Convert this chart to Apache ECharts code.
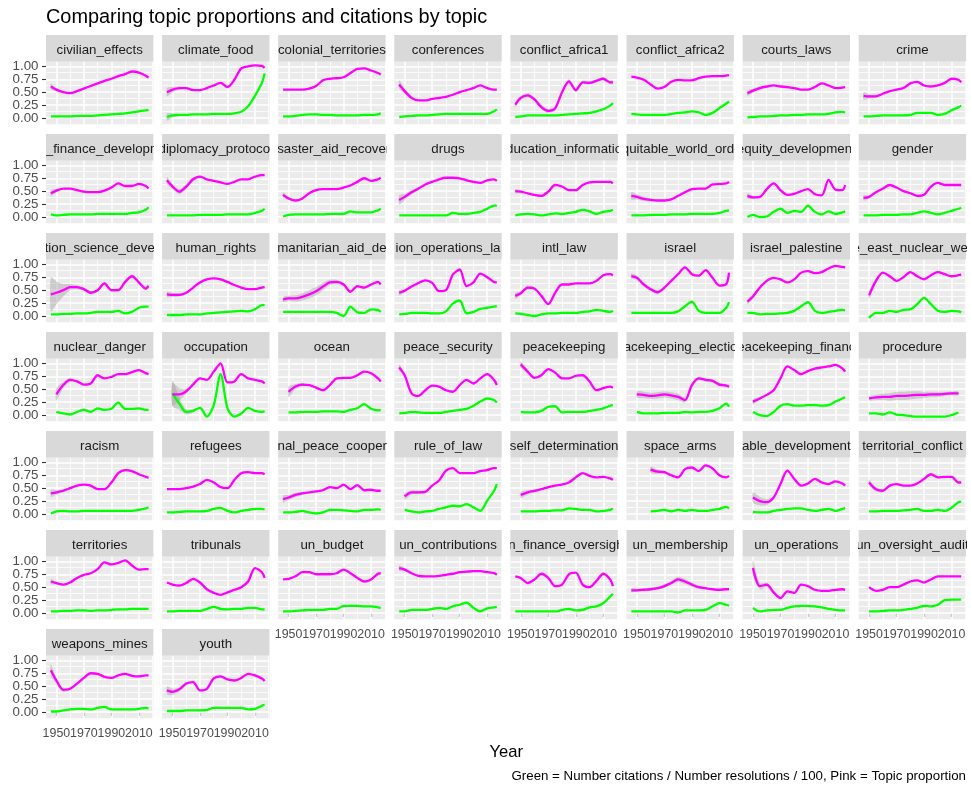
<!DOCTYPE html>
<html><head><meta charset="utf-8">
<script src="https://cdn.jsdelivr.net/npm/echarts@6/dist/echarts.min.js"></script>
<style>html,body{margin:0;padding:0;background:#fff}#c{width:971px;height:787px}</style>
</head><body><div id="c"></div>
<script>
// ---------------- DATA ----------------
const years = [1946,1950,1955,1960,1965,1970,1975,1980,1985,1990,1995,2000,2005,2010,2015,2017];
const xTicks = [1950,1970,1990,2010];
const yTicks = [0,0.25,0.5,0.75,1];
const majorX = [1950,1970,1990,2010], minorX = [1960,1980,2000,2020];
const majorY = [0,0.25,0.5,0.75,1], minorY = [-0.125,0.125,0.375,0.625,0.875];

const labels = ["civilian_effects","climate_food","colonial_territories","conferences","conflict_africa1","conflict_africa2","courts_laws","crime",
"debt_finance_development","diplomacy_protocol","disaster_aid_recovery","drugs","education_information","equitable_world_order","equity_development","gender",
"tion_science_deve","human_rights","manitarian_aid_de","ion_operations_la","intl_law","israel","israel_palestine","middle_east_nuclear_weapons",
"nuclear_danger","occupation","ocean","peace_security","peacekeeping","peacekeeping_elections","peacekeeping_finance","procedure",
"racism","refugees","regional_peace_cooperation","rule_of_law","self_determination","space_arms","able_development","territorial_conflict",
"territories","tribunals","un_budget","un_contributions","un_finance_oversight","un_membership","un_operations","un_oversight_audit",
"weapons_mines","youth"];

// Pink = topic proportion, Green = citations / resolutions / 100
const P01=[0.61,0.55,0.50,0.48,0.52,0.57,0.62,0.67,0.72,0.76,0.81,0.85,0.90,0.88,0.82,0.78], G01=[0.03,0.03,0.03,0.03,0.04,0.04,0.04,0.05,0.06,0.07,0.08,0.09,0.11,0.13,0.15,0.16];
const P02=[0.50,0.55,0.58,0.58,0.54,0.54,0.58,0.63,0.68,0.60,0.74,0.96,1.00,1.02,1.01,0.97], G02=[0.02,0.05,0.06,0.06,0.07,0.07,0.07,0.08,0.08,0.08,0.09,0.12,0.23,0.43,0.68,0.86];
const P03=[0.55,0.55,0.55,0.55,0.57,0.62,0.73,0.76,0.77,0.79,0.87,0.95,0.96,0.92,0.87,0.84], G03=[0.03,0.03,0.04,0.06,0.07,0.07,0.06,0.06,0.05,0.05,0.05,0.05,0.06,0.06,0.07,0.09];
const P04=[0.65,0.52,0.39,0.34,0.34,0.37,0.39,0.41,0.45,0.50,0.54,0.58,0.63,0.58,0.55,0.55], G04=[0.02,0.03,0.04,0.05,0.05,0.06,0.07,0.08,0.08,0.08,0.08,0.08,0.08,0.08,0.13,0.17];
const P05=[0.26,0.39,0.44,0.36,0.21,0.14,0.19,0.50,0.71,0.54,0.69,0.68,0.72,0.76,0.69,0.69], G05=[0.02,0.03,0.05,0.05,0.05,0.05,0.05,0.06,0.07,0.08,0.09,0.10,0.13,0.17,0.24,0.29];
const P06=[0.80,0.78,0.74,0.65,0.57,0.60,0.70,0.74,0.73,0.73,0.77,0.80,0.81,0.81,0.82,0.83], G06=[0.08,0.07,0.06,0.06,0.06,0.06,0.08,0.10,0.11,0.13,0.11,0.06,0.10,0.19,0.28,0.32];
const P07=[0.48,0.53,0.58,0.61,0.63,0.61,0.60,0.58,0.55,0.55,0.60,0.67,0.63,0.58,0.59,0.60], G07=[0.01,0.02,0.03,0.03,0.04,0.05,0.05,0.06,0.06,0.07,0.07,0.07,0.08,0.11,0.12,0.11];
const P08=[0.43,0.42,0.42,0.47,0.52,0.55,0.58,0.67,0.70,0.63,0.61,0.63,0.68,0.76,0.74,0.69], G08=[0.03,0.03,0.04,0.05,0.05,0.05,0.05,0.06,0.10,0.10,0.10,0.06,0.08,0.15,0.21,0.24];
const P09=[0.46,0.51,0.55,0.55,0.52,0.49,0.48,0.48,0.51,0.57,0.65,0.60,0.60,0.64,0.60,0.55], G09=[0.05,0.03,0.04,0.05,0.05,0.05,0.05,0.06,0.06,0.06,0.06,0.06,0.08,0.09,0.14,0.19];
const P10=[0.71,0.59,0.49,0.59,0.73,0.78,0.73,0.70,0.67,0.64,0.68,0.73,0.73,0.78,0.81,0.81], G10=[0.03,0.03,0.03,0.03,0.03,0.04,0.04,0.04,0.04,0.05,0.05,0.05,0.05,0.08,0.12,0.16];
const P11=[0.43,0.36,0.32,0.36,0.46,0.52,0.54,0.54,0.54,0.57,0.61,0.68,0.75,0.70,0.73,0.76], G11=[0.01,0.04,0.05,0.05,0.05,0.05,0.05,0.06,0.06,0.06,0.11,0.09,0.09,0.09,0.13,0.16];
const P12=[0.33,0.39,0.48,0.55,0.63,0.68,0.73,0.76,0.76,0.75,0.71,0.68,0.66,0.71,0.73,0.70], G12=[0.03,0.03,0.03,0.03,0.03,0.03,0.03,0.03,0.08,0.06,0.06,0.08,0.10,0.16,0.22,0.22];
const P13=[0.50,0.49,0.46,0.43,0.41,0.49,0.62,0.59,0.52,0.52,0.62,0.67,0.68,0.68,0.68,0.65], G13=[0.03,0.05,0.06,0.05,0.03,0.05,0.07,0.06,0.08,0.10,0.14,0.11,0.06,0.10,0.12,0.14];
const P14=[0.41,0.39,0.35,0.33,0.32,0.32,0.34,0.41,0.48,0.54,0.55,0.55,0.63,0.64,0.65,0.68], G14=[0.03,0.03,0.03,0.04,0.04,0.04,0.05,0.05,0.05,0.06,0.06,0.06,0.06,0.08,0.12,0.13];
const P15=[0.41,0.38,0.39,0.54,0.65,0.52,0.43,0.45,0.50,0.54,0.44,0.42,0.72,0.53,0.52,0.62], G15=[0.00,0.04,0.00,0.01,0.10,0.16,0.08,0.12,0.10,0.22,0.10,0.05,0.11,0.06,0.09,0.11];
const P16=[0.37,0.39,0.48,0.55,0.62,0.57,0.50,0.46,0.41,0.43,0.59,0.66,0.62,0.62,0.62,0.62], G16=[0.03,0.03,0.03,0.04,0.04,0.04,0.05,0.05,0.08,0.11,0.08,0.05,0.08,0.12,0.16,0.18];
const P17=[0.42,0.45,0.50,0.56,0.56,0.52,0.45,0.50,0.63,0.50,0.50,0.66,0.77,0.65,0.53,0.58], G17=[0.03,0.03,0.04,0.04,0.05,0.05,0.06,0.08,0.08,0.08,0.10,0.05,0.08,0.16,0.18,0.18];
const P18=[0.42,0.41,0.41,0.45,0.55,0.65,0.71,0.73,0.71,0.66,0.60,0.55,0.52,0.52,0.55,0.56], G18=[0.02,0.02,0.02,0.03,0.03,0.03,0.05,0.06,0.07,0.08,0.09,0.10,0.09,0.13,0.21,0.21];
const P19=[0.32,0.34,0.34,0.37,0.42,0.48,0.57,0.65,0.66,0.61,0.47,0.58,0.55,0.61,0.66,0.61], G19=[0.08,0.08,0.08,0.08,0.08,0.08,0.08,0.08,0.06,0.00,0.18,0.07,0.06,0.13,0.12,0.08];
const P20=[0.45,0.49,0.57,0.64,0.69,0.64,0.48,0.50,0.80,0.90,0.58,0.65,0.82,0.75,0.66,0.65], G20=[0.03,0.04,0.06,0.06,0.06,0.05,0.05,0.09,0.24,0.30,0.05,0.08,0.14,0.16,0.18,0.19];
const P21=[0.39,0.44,0.55,0.53,0.39,0.23,0.45,0.61,0.61,0.63,0.63,0.63,0.68,0.79,0.81,0.79], G21=[0.05,0.04,0.02,0.00,0.03,0.05,0.05,0.06,0.06,0.06,0.08,0.09,0.12,0.10,0.08,0.10];
const P22=[0.77,0.74,0.61,0.52,0.46,0.55,0.68,0.81,0.94,0.81,0.78,0.89,0.74,0.59,0.62,0.84], G22=[0.06,0.06,0.06,0.06,0.06,0.06,0.06,0.09,0.19,0.28,0.10,0.06,0.06,0.06,0.16,0.27];
const P23=[0.28,0.38,0.55,0.68,0.74,0.71,0.65,0.71,0.84,0.87,0.83,0.85,0.92,0.97,0.95,0.94], G23=[0.06,0.06,0.03,0.04,0.04,0.05,0.06,0.10,0.19,0.27,0.10,0.06,0.08,0.10,0.12,0.11];
const P24=[null,0.40,0.68,0.84,0.77,0.68,0.75,0.85,0.77,0.71,0.79,0.85,0.81,0.77,0.79,0.80], G24=[null,-0.04,0.06,0.06,0.10,0.08,0.12,0.13,0.23,0.35,0.23,0.10,0.08,0.10,0.09,0.07];
const P25=[null,0.40,0.58,0.68,0.65,0.59,0.61,0.77,0.71,0.74,0.79,0.79,0.83,0.87,0.81,0.79], G25=[null,0.06,0.03,0.01,0.06,0.10,0.06,0.13,0.10,0.12,0.24,0.12,0.12,0.13,0.10,0.10];
const P26=[null,0.40,0.40,0.46,0.59,0.71,0.68,0.84,1.00,0.63,0.65,0.79,0.71,0.68,0.65,0.61], G26=[null,0.42,0.22,0.06,0.08,0.14,-0.03,0.19,0.79,0.13,-0.03,0.03,0.14,0.08,0.06,0.08];
const P27=[null,0.45,0.55,0.59,0.58,0.53,0.48,0.58,0.71,0.72,0.72,0.77,0.84,0.81,0.71,0.65], G27=[null,0.05,0.05,0.06,0.06,0.06,0.07,0.07,0.07,0.06,0.10,0.13,0.21,0.12,0.09,0.10];
const P28=[0.92,0.77,0.42,0.37,0.48,0.57,0.55,0.48,0.45,0.58,0.68,0.61,0.71,0.79,0.68,0.58], G28=[0.03,0.04,0.06,0.05,0.04,0.04,0.04,0.06,0.08,0.10,0.12,0.18,0.26,0.32,0.29,0.24];
const P29=[null,0.98,0.84,0.72,0.77,0.89,0.82,0.71,0.71,0.76,0.77,0.65,0.48,0.52,0.55,0.53], G29=[null,0.06,0.05,0.05,0.08,0.16,0.17,0.05,0.06,0.06,0.06,0.08,0.10,0.13,0.18,0.19];
const P30=[null,0.40,0.39,0.37,0.38,0.40,0.38,0.35,0.29,0.58,0.71,0.68,0.66,0.59,0.57,0.55], G30=[null,0.06,0.03,0.03,0.03,0.04,0.04,0.04,0.06,0.05,0.06,0.06,0.08,0.13,0.22,0.16];
const P31=[null,0.26,0.32,0.39,0.48,0.71,0.94,0.87,0.79,0.85,0.90,0.92,0.94,0.97,0.90,0.84], G31=[null,0.06,0.00,-0.02,0.06,0.18,0.21,0.18,0.18,0.19,0.19,0.18,0.19,0.26,0.32,0.34];
const P32=[null,0.32,0.34,0.35,0.35,0.37,0.37,0.38,0.39,0.39,0.40,0.40,0.41,0.42,0.42,null], G32=[null,0.03,0.03,0.01,0.05,0.01,0.00,-0.02,-0.03,-0.03,-0.03,-0.03,-0.03,0.00,0.05,null];
const P33=[0.40,0.42,0.45,0.50,0.55,0.57,0.55,0.48,0.48,0.61,0.79,0.85,0.83,0.77,0.72,0.70], G33=[0.01,0.05,0.06,0.05,0.05,0.06,0.06,0.06,0.06,0.06,0.06,0.06,0.06,0.08,0.11,0.13];
const P34=[0.48,0.48,0.48,0.50,0.53,0.58,0.66,0.61,0.52,0.50,0.66,0.79,0.81,0.79,0.79,0.77], G34=[0.03,0.03,0.04,0.05,0.05,0.05,0.06,0.10,0.12,0.06,0.03,0.06,0.08,0.10,0.10,0.09];
const P35=[0.29,0.32,0.37,0.40,0.42,0.44,0.46,0.52,0.50,0.57,0.48,0.56,0.46,0.47,0.45,0.45], G35=[0.03,0.03,0.04,0.06,0.03,0.01,0.03,0.08,0.08,0.07,0.06,0.05,0.08,0.08,0.09,0.08];
const P36=[null,0.34,0.42,0.42,0.43,0.55,0.65,0.84,0.89,0.79,0.79,0.79,0.83,0.85,0.89,0.89], G36=[null,0.08,0.05,0.03,0.05,0.06,0.10,0.13,0.16,0.15,0.19,0.13,0.06,0.26,0.45,0.58];
const P37=[null,0.37,0.42,0.45,0.48,0.52,0.55,0.57,0.61,0.71,0.79,0.74,0.71,0.72,0.69,0.66], G37=[null,0.05,0.05,0.05,0.06,0.06,0.07,0.07,0.11,0.10,0.08,0.08,0.05,0.06,0.08,0.11];
const P38=[null,null,null,0.86,0.82,0.81,0.75,0.71,0.87,0.90,0.83,0.94,0.88,0.75,0.71,0.74], G38=[null,null,null,0.05,0.06,0.08,0.05,0.08,0.06,0.08,0.06,0.06,0.08,0.10,0.14,0.11];
const P39=[null,0.32,0.25,0.23,0.32,0.58,0.84,0.68,0.55,0.59,0.68,0.61,0.58,0.63,0.59,0.55], G39=[null,0.04,0.03,0.03,0.06,0.08,0.10,0.11,0.11,0.08,0.06,0.08,0.10,0.06,0.10,0.12];
const P40=[null,0.61,0.48,0.45,0.55,0.58,0.55,0.55,0.59,0.68,0.77,0.71,0.72,0.72,0.61,0.61], G40=[null,0.05,0.05,0.06,0.06,0.06,0.07,0.08,0.10,0.06,0.06,0.08,0.06,0.12,0.23,0.24];
const P41=[0.61,0.58,0.55,0.59,0.68,0.74,0.77,0.85,0.98,0.94,0.97,1.02,0.92,0.84,0.85,0.85], G41=[0.03,0.03,0.04,0.04,0.05,0.05,0.04,0.05,0.05,0.06,0.07,0.07,0.08,0.08,0.08,0.08];
const P42=[0.59,0.55,0.53,0.58,0.66,0.59,0.46,0.39,0.35,0.40,0.45,0.50,0.61,0.87,0.79,0.68], G42=[0.03,0.03,0.04,0.04,0.04,0.04,0.08,0.12,0.08,0.07,0.08,0.08,0.10,0.10,0.07,0.07];
const P43=[0.65,0.66,0.71,0.79,0.79,0.75,0.75,0.75,0.77,0.84,0.77,0.68,0.61,0.65,0.76,0.77], G43=[0.03,0.03,0.04,0.05,0.06,0.06,0.06,0.08,0.08,0.14,0.14,0.14,0.13,0.13,0.11,0.10];
const P44=[0.87,0.84,0.77,0.72,0.71,0.71,0.72,0.74,0.76,0.79,0.80,0.81,0.81,0.79,0.77,0.74], G44=[0.03,0.03,0.06,0.06,0.06,0.08,0.10,0.08,0.13,0.16,0.20,0.10,0.03,0.09,0.11,0.12];
const P45=[0.71,0.68,0.58,0.65,0.76,0.68,0.52,0.55,0.75,0.78,0.55,0.50,0.62,0.76,0.65,0.52], G45=[0.03,0.03,0.03,0.03,0.03,0.03,0.03,0.06,0.08,0.05,0.06,0.11,0.13,0.19,0.32,0.37];
const P46=[0.44,0.44,0.45,0.46,0.48,0.52,0.58,0.65,0.61,0.55,0.50,0.48,0.46,0.45,0.46,0.46], G46=[0.03,0.03,0.03,0.03,0.03,0.03,0.03,0.01,0.05,0.05,0.05,0.06,0.13,0.19,0.16,0.14];
const P47=[null,0.87,0.52,0.55,0.40,0.29,0.42,0.39,0.55,0.52,0.45,0.43,0.43,0.45,0.46,0.45], G47=[null,0.10,0.03,0.05,0.06,0.06,0.10,0.13,0.14,0.14,0.13,0.11,0.08,0.06,0.05,0.05];
const P48=[null,0.50,0.43,0.45,0.50,0.50,0.55,0.61,0.63,0.59,0.65,0.71,0.71,0.71,0.71,0.71], G48=[null,0.03,0.03,0.04,0.05,0.05,0.06,0.08,0.10,0.14,0.13,0.16,0.25,0.26,0.26,0.26];
const P49=[0.81,0.61,0.43,0.45,0.55,0.66,0.75,0.74,0.68,0.66,0.71,0.74,0.70,0.69,0.71,0.71], G49=[0.01,0.01,0.03,0.05,0.06,0.06,0.05,0.08,0.10,0.05,0.05,0.05,0.05,0.06,0.08,0.07];
const P50=[0.42,0.39,0.44,0.55,0.58,0.42,0.45,0.65,0.69,0.63,0.61,0.66,0.74,0.71,0.65,0.60], G50=[0.02,0.02,0.02,0.03,0.03,0.03,0.04,0.08,0.08,0.08,0.08,0.08,0.05,0.06,0.12,0.14];

// half-width of the grey confidence ribbons (read where visible; entries past the end = no visible band)
const bandPink = {
  0:[0.06,0.03], 1:[0.08,0.05,0.03], 3:[0.08,0.05,0.03], 4:[0.05,0.04,0.04,0.04,0.04,0.04,0.04,0.04,0.04,0.04,0.03,0.03,0.03,0.03,0.03,0.04],
  6:[0.05,0.04,0.03], 7:[0.07,0.04,0.03], 8:[0.06,0.03], 9:[0.07,0.05,0.05,0.05,0.04,0.03], 10:[0.05,0.03], 11:[0.09,0.06,0.04,0.03],
  12:[0.04,0.03], 13:[0.07,0.05,0.04,0.03], 14:[0.05,0.03], 15:[0.05,0.03],
  16:[0.33,0.22,0.12,0.06,0.04,0.03,0.03,0.03,0.03,0.03,0.03,0.03,0.03,0.03,0.03,0.04], 17:[0.05,0.04,0.03],
  18:[0.05,0.05,0.06,0.07,0.08,0.08,0.07,0.05,0.04,0.03], 19:[0.05,0.03], 20:[0.06,0.04,0.04,0.03], 21:[0.05,0.04,0.03,0.03,0.04],
  22:[0.05,0.04,0.03,0.03], 23:[0,0.07,0.04], 24:[0,0.12,0.06,0.04], 25:[0,0.22,0.12,0.05,0.03], 26:[0,0.10,0.05,0.03],
  27:[0.06,0.04,0.03], 28:[0,0.06,0.03], 29:[0,0.06,0.06,0.06,0.06,0.06,0.06,0.06,0.05,0.04,0.03,0.03,0.03,0.03,0.03,0.04],
  30:[0,0.05,0.03], 31:[0,0.04,0.05,0.06,0.07,0.08,0.08,0.08,0.07,0.06,0.05,0.05,0.04,0.04,0.04], 32:[0.07,0.04,0.03],
  34:[0.07,0.05,0.04,0.03], 35:[0,0.06,0.04,0.03], 36:[0,0.06,0.04,0.03], 37:[0,0,0,0.06,0.04,0.03], 38:[0,0.10,0.08,0.06,0.04,0.03],
  39:[0,0.06,0.04,0.03], 40:[0.05,0.03], 43:[0.05,0.03], 45:[0.04,0.03,0.03,0.03,0.03,0.03,0.04,0.05,0.05,0.04,0.03],
  46:[0,0.15,0.06,0.04,0.03], 48:[0.12,0.06,0.04,0.03], 49:[0.08,0.06,0.04,0.03]
};
const bandGreen = { 1:[0.07,0.04,0.02], 25:[0,0.25,0.12,0.05,0.03] };

const proportion = [P01,P02,P03,P04,P05,P06,P07,P08,P09,P10,P11,P12,P13,P14,P15,P16,P17,P18,P19,P20,P21,P22,P23,P24,P25,
  P26,P27,P28,P29,P30,P31,P32,P33,P34,P35,P36,P37,P38,P39,P40,P41,P42,P43,P44,P45,P46,P47,P48,P49,P50];
const citations = [G01,G02,G03,G04,G05,G06,G07,G08,G09,G10,G11,G12,G13,G14,G15,G16,G17,G18,G19,G20,G21,G22,G23,G24,G25,
  G26,G27,G28,G29,G30,G31,G32,G33,G34,G35,G36,G37,G38,G39,G40,G41,G42,G43,G44,G45,G46,G47,G48,G49,G50];

// ---------------- LAYOUT / STYLE ----------------
const FONT = '"Liberation Sans", Arial, sans-serif';
const X0 = 46, PITCH_X = 116.1, W = 107.4, Y0 = 35, PITCH_Y = 99, SH = 26.7, PH = 63.3;
const PINK = '#FF00FF', GREEN = '#00FF00';

const grids = [], xAxes = [], yAxes = [], series = [];
function pairs(vals){ return years.map((y,k)=>[y, vals[k] == null ? null : vals[k]]); }

// grey ribbon as a polygon built from the value axis coordinates
function addBand(idx, vals, band){
  if(!band) return;
  series.push({type:'custom', xAxisIndex:idx, yAxisIndex:idx, clip:true, silent:true, animation:false, z:2,
    data:[[years[0], 0]],
    renderItem:(params, api)=>{
      const up = [], lo = [];
      for(let k=0;k<years.length && k<=band.length;k++){
        if(vals[k]==null) continue;
        const b = band[k] || 0;
        up.push(api.coord([years[k], vals[k]+b]));
        lo.push(api.coord([years[k], vals[k]-b]));
      }
      if(up.length < 2) return null;
      return {type:'polygon', shape:{points: up.concat(lo.reverse()), smooth:0.25},
        style:{fill:'rgba(153,153,153,0.4)'}};
    }});
}

for(let i=0;i<labels.length;i++){
  const r = Math.floor(i/8), c = i%8;
  const left = X0 + PITCH_X*c, top = Y0 + PITCH_Y*r;
  const bottomRow = (c < 2) ? 6 : 5;
  const isBottom = r === bottomRow, isLeft = c === 0;

  // strip
  const si = grids.length;
  grids.push({left:left, top:top, width:W, height:SH, show:true, backgroundColor:'#D9D9D9', borderWidth:0, containLabel:false, outerBoundsMode:'none'});
  xAxes.push({gridIndex:si, type:'value', min:0, max:1, show:false});
  yAxes.push({gridIndex:si, type:'value', min:0, max:1, show:false});
  const lab = labels[i];
  series.push({type:'custom', xAxisIndex:si, yAxisIndex:si, clip:true, silent:true, animation:false, data:[[0.5,1]],
    renderItem:(params, api)=>{
      const p = api.coord([0.5,1]);
      return {type:'text', x:p[0], y:p[1]+15.4, style:{text:lab, fill:'#1A1A1A', fontSize:13.3, fontFamily:FONT, align:'center', verticalAlign:'middle'}};
    }});

  // panel
  const pi = grids.length;
  grids.push({left:left, top:top+SH, width:W, height:PH, show:true, backgroundColor:'#EBEBEB', borderWidth:0, containLabel:false, outerBoundsMode:'none'});
  xAxes.push({gridIndex:pi, type:'value', min:1942.45, max:2020.55,
    axisLine:{show:false}, splitLine:{show:false},
    axisTick:{show:isBottom, customValues:xTicks, length:4, lineStyle:{color:'#333333', width:1.1}},
    axisLabel:{show:isBottom, customValues:xTicks, showMinLabel:true, showMaxLabel:true, hideOverlap:false, margin:8,
      color:'#4D4D4D', fontSize:12.4, fontFamily:FONT, lineHeight:14, formatter:v=>String(v)}});
  yAxes.push({gridIndex:pi, type:'value', min:-0.135, max:1.09,
    axisLine:{show:false}, splitLine:{show:false},
    axisTick:{show:isLeft, customValues:yTicks, length:4, lineStyle:{color:'#333333', width:1.1}},
    axisLabel:{show:isLeft, customValues:yTicks, showMinLabel:true, showMaxLabel:true, margin:7.5,
      color:'#4D4D4D', fontSize:13.3, fontFamily:FONT, formatter:v=>v.toFixed(2)}});

  addBand(pi, citations[i], bandGreen[i]);
  addBand(pi, proportion[i], bandPink[i]);

  const gridLines = [];
  majorY.forEach(v=>gridLines.push({yAxis:v, lineStyle:{width:1.5}}));
  minorY.forEach(v=>gridLines.push({yAxis:v, lineStyle:{width:0.75}}));
  majorX.forEach(v=>gridLines.push({xAxis:v, lineStyle:{width:1.5}}));
  minorX.forEach(v=>gridLines.push({xAxis:v, lineStyle:{width:0.75}}));

  series.push({type:'line', xAxisIndex:pi, yAxisIndex:pi, data:pairs(citations[i]), symbol:'none', showSymbol:false,
    smooth:0.3, silent:true, animation:false, z:3, lineStyle:{color:GREEN, width:2.3},
    markLine:{silent:true, symbol:['none','none'], z:1, animation:false, label:{show:false}, emphasis:{disabled:true},
      lineStyle:{color:'#FFFFFF', type:'solid', width:0.75}, data:gridLines}});
  series.push({type:'line', xAxisIndex:pi, yAxisIndex:pi, data:pairs(proportion[i]), symbol:'none', showSymbol:false,
    smooth:0.3, silent:true, animation:false, z:3, lineStyle:{color:PINK, width:2.3}});
}

const chart = echarts.init(document.getElementById('c'), null, {renderer:'canvas'});
chart.setOption({
  animation:false,
  backgroundColor:'#FFFFFF',
  textStyle:{fontFamily:FONT},
  grid:grids, xAxis:xAxes, yAxis:yAxes, series:series,
  graphic:[
    {type:'text', x:46, y:17.3, silent:true, style:{text:'Comparing topic proportions and citations by topic', fill:'#000000', fontSize:19.9, fontFamily:FONT, align:'left', verticalAlign:'middle'}},
    {type:'text', x:506.2, y:752, silent:true, style:{text:'Year', fill:'#000000', fontSize:16.6, fontFamily:FONT, align:'center', verticalAlign:'middle'}},
    {type:'text', x:966, y:776, silent:true, style:{text:'Green = Number citations / Number resolutions / 100, Pink = Topic proportion', fill:'#000000', fontSize:13.3, fontFamily:FONT, align:'right', verticalAlign:'middle'}}
  ]
});
</script></body></html>
